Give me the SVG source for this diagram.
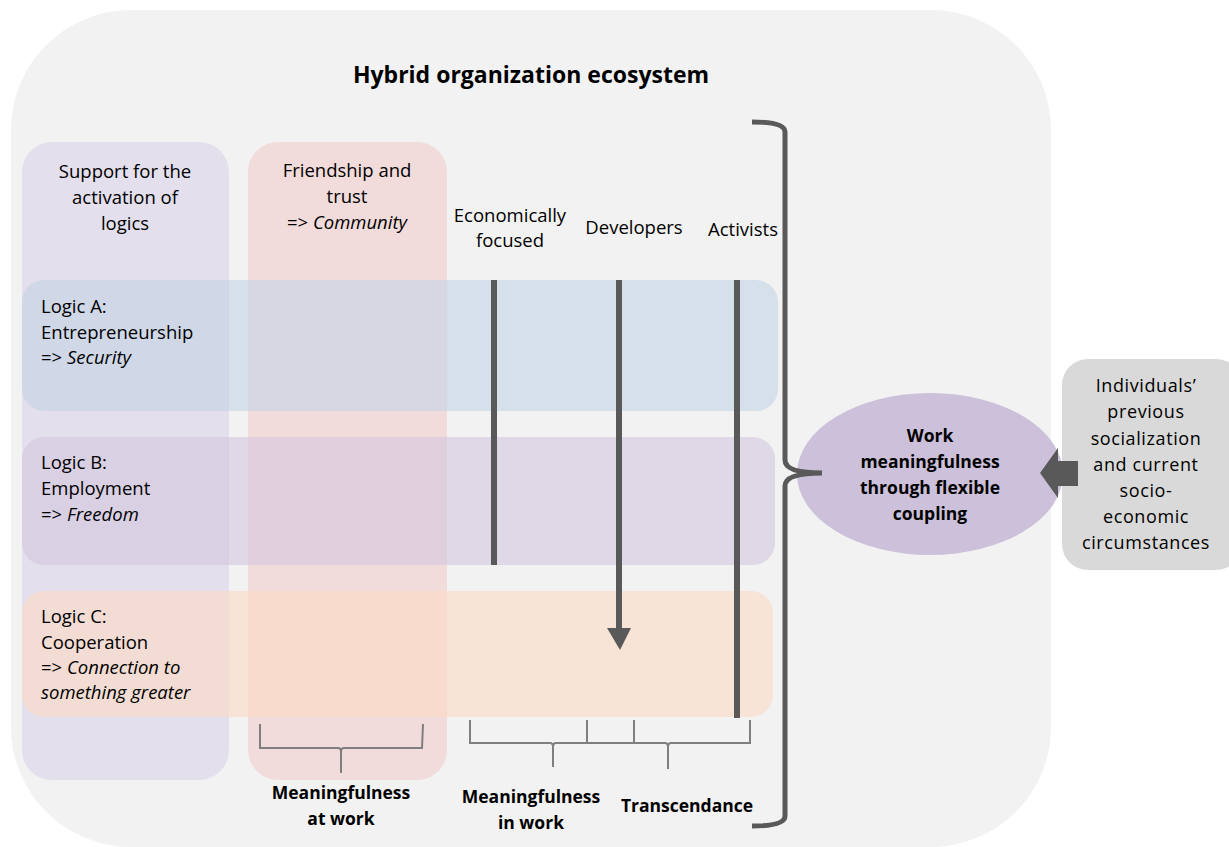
<svg xmlns="http://www.w3.org/2000/svg" width="1229" height="847" viewBox="0 0 1229 847">
<defs>
<style>
.t{font-family:"Open Sans","Liberation Sans",sans-serif;font-size:18.5px;fill:#000}
.c{text-anchor:middle}
.b{font-weight:bold}
.i{font-style:italic}
.lb{font-size:17.5px}
.g{font-size:18px;letter-spacing:0.6px}
.thick{stroke:#595959;stroke-width:6;fill:none}
.brace{stroke:#7f7f7f;stroke-width:2;fill:none}
</style>
</defs>
<rect width="1229" height="847" fill="#ffffff"/>
<g id="ecosystem">
<rect x="11" y="10" width="1040" height="837" rx="120" ry="120" fill="#f2f2f2"/>
<text class="t c b" x="531" y="83" style="font-size:23px">Hybrid organization ecosystem</text>
</g>
<g id="support">
<rect x="22" y="142" width="207" height="638" rx="30" fill="#e4dfec"/>
<text class="t c" x="125" y="178">Support for the</text>
<text class="t c" x="125" y="204">activation of</text>
<text class="t c" x="125" y="230">logics</text>
</g>
<g id="friendship">
<rect x="248" y="142" width="199" height="638" rx="30" fill="#f2dcdb"/>
<text class="t c" x="347" y="177">Friendship and</text>
<text class="t c" x="347" y="203">trust</text>
<text class="t c" x="347" y="229">=&gt; <tspan class="i">Community</tspan></text>
</g>
<g id="logicA">
<rect x="22" y="280" width="756" height="131" rx="22" fill="#c3d4e6" fill-opacity="0.6"/>
<text class="t" x="41" y="313">Logic A:</text>
<text class="t" x="41" y="339">Entrepreneurship</text>
<text class="t" x="41" y="364">=&gt; <tspan class="i">Security</tspan></text>
</g>
<g id="logicB">
<rect x="22" y="437" width="753" height="128" rx="22" fill="#d2c7de" fill-opacity="0.6"/>
<text class="t" x="41" y="469">Logic B:</text>
<text class="t" x="41" y="495">Employment</text>
<text class="t" x="41" y="521">=&gt; <tspan class="i">Freedom</tspan></text>
</g>
<g id="logicC">
<rect x="22" y="591" width="751" height="126" rx="22" fill="#fcdbc3" fill-opacity="0.6"/>
<text class="t" x="41" y="623">Logic C:</text>
<text class="t" x="41" y="649">Cooperation</text>
<text class="t" x="41" y="674">=&gt; <tspan class="i">Connection to</tspan></text>
<text class="t i" x="41" y="699">something greater</text>
</g>
<g id="economically">
<text class="t c" x="510" y="222">Economically</text>
<text class="t c" x="510" y="247">focused</text>
</g>
<g id="developers">
<text class="t c" x="634" y="234">Developers</text>
</g>
<g id="activists">
<text class="t c" x="743" y="236">Activists</text>
</g>
<g id="work">
<ellipse cx="930" cy="474" rx="133" ry="81" fill="#ccc0da"/>
<text class="t c b lb" x="930" y="442">Work</text>
<text class="t c b lb" x="930" y="468">meaningfulness</text>
<text class="t c b lb" x="930" y="494">through flexible</text>
<text class="t c b lb" x="930" y="520">coupling</text>
</g>
<g id="individuals">
<rect x="1062" y="359" width="180" height="211" rx="26" fill="#d9d9d9"/>
<text class="t c g" x="1146" y="392">Individuals’</text>
<text class="t c g" x="1146" y="418">previous</text>
<text class="t c g" x="1146" y="445">socialization</text>
<text class="t c g" x="1146" y="471">and  current</text>
<text class="t c g" x="1146" y="497">socio-</text>
<text class="t c g" x="1146" y="523">economic</text>
<text class="t c g" x="1146" y="549">circumstances</text>
</g>
<g id="labels">
<text class="t c b lb" x="341" y="799">Meaningfulness</text>
<text class="t c b lb" x="341" y="825">at work</text>
<text class="t c b lb" x="531" y="803">Meaningfulness</text>
<text class="t c b lb" x="531" y="829">in work</text>
<text class="t c b lb" x="687" y="812">Transcendance</text>
</g>
<g id="connectors">
<line class="thick" x1="494" y1="280" x2="494" y2="565"/>
<line class="thick" x1="619" y1="280" x2="619" y2="630"/>
<path d="M607,628 L631,628 L620,650 Z" fill="#595959"/>
<line class="thick" x1="737" y1="280" x2="737" y2="718"/>
<path class="thick" style="stroke-width:5" d="M752,122 Q785,122 785,132 L785,460 Q785,473 822,473 Q785,473 785,486 L785,816 Q785,826 752,826"/>
<path d="M1078,461 L1078,486 L1058,486 L1058,498 L1040,473 L1058,448 L1058,461 Z" fill="#595959"/>
<path class="brace" d="M260,724 L260,748 L338,748 Q341,748 341,752 L341,773 M341,752 Q341,748 344,748 L422,748 L423,724"/>
<path class="brace" d="M470,720 L470,743 L550,743 Q553,743 553,747 L553,767 M553,747 Q553,743 556,743 L634,743 L634,720"/>
<path class="brace" d="M587,720 L587,743 L665,743 Q668,743 668,747 L668,769 M668,747 Q668,743 671,743 L750,743 L750,720"/>
</g>
</svg>
